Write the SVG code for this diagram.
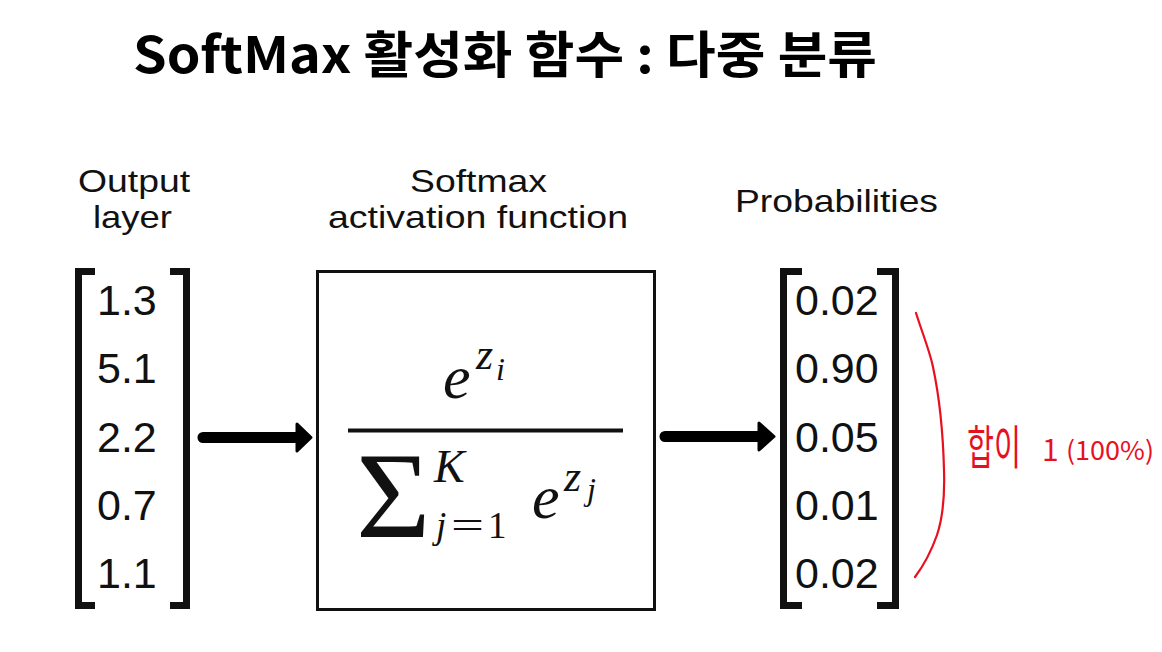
<svg xmlns="http://www.w3.org/2000/svg" width="1162" height="652" viewBox="0 0 1162 652">
<style>
.lbl{font-family:"Liberation Sans",Arial,sans-serif;font-size:32px;fill:#111;text-anchor:start}
.num{font-family:"Liberation Sans",Arial,sans-serif;font-size:43px;fill:#111}
.br{fill:#111}
.m{font-family:"Liberation Serif","Times New Roman",serif;font-style:italic;fill:#111}
.r{font-family:"Liberation Serif","Times New Roman",serif;fill:#111}
.arrow{stroke:#000;stroke-width:11;stroke-linecap:round;fill:none}
.head{fill:#000;stroke:#000;stroke-width:3;stroke-linejoin:round}
.red{fill:#e8101e;font-family:"Noto Sans CJK KR","Noto Sans",sans-serif}
</style>
<rect width="1162" height="652" fill="#fff"/>
<g id="title">
<text x="133" y="73" font-family="'Noto Sans CJK KR','Noto Sans',sans-serif" font-weight="bold" font-size="50" fill="#000" textLength="744" lengthAdjust="spacingAndGlyphs">SoftMax 활성화 함수 : 다중 분류</text>
</g>
<g id="output-layer">
<text class="lbl" x="78" y="192" textLength="112" lengthAdjust="spacingAndGlyphs">Output</text>
<text class="lbl" x="93" y="228" textLength="79" lengthAdjust="spacingAndGlyphs">layer</text>
<rect class="br" x="75" y="268" width="7" height="341"/>
<rect class="br" x="75" y="268" width="20" height="7"/>
<rect class="br" x="75" y="602" width="20" height="7"/>
<rect class="br" x="183" y="268" width="7" height="341"/>
<rect class="br" x="170" y="268" width="20" height="7"/>
<rect class="br" x="170" y="602" width="20" height="7"/>
<text class="num" x="97" y="315">1.3</text>
<text class="num" x="97" y="383">5.1</text>
<text class="num" x="97" y="452">2.2</text>
<text class="num" x="97" y="520">0.7</text>
<text class="num" x="97" y="588">1.1</text>
</g>
<g id="softmax">
<text class="lbl" x="410" y="192" textLength="137" lengthAdjust="spacingAndGlyphs">Softmax</text>
<text class="lbl" x="328" y="228" textLength="300" lengthAdjust="spacingAndGlyphs">activation function</text>
<rect x="317.5" y="271.5" width="337" height="338" fill="none" stroke="#111" stroke-width="3"/>
<rect x="348" y="428.5" width="275" height="4" fill="#111"/>
<text class="m" x="443" y="398" font-size="62">e</text>
<text class="m" x="476" y="369" font-size="44">z</text>
<text class="m" x="496" y="380" font-size="32">i</text>
<text class="r" transform="translate(356,537) scale(1.05,1)" font-size="122">Σ</text>
<text class="m" x="434" y="482" font-size="46">K</text>
<text class="m" x="436" y="538" font-size="37">j</text>
<text class="r" x="451" y="538" font-size="37" textLength="33" lengthAdjust="spacingAndGlyphs">=</text>
<text class="r" x="488" y="538" font-size="37">1</text>
<text class="m" x="532" y="518" font-size="62">e</text>
<text class="m" x="564" y="491" font-size="44">z</text>
<text class="m" x="587" y="500" font-size="32">j</text>
</g>
<g id="probabilities">
<text class="lbl" x="735" y="212" font-size="35" textLength="203" lengthAdjust="spacingAndGlyphs">Probabilities</text>
<rect class="br" x="780" y="268" width="7" height="341"/>
<rect class="br" x="780" y="268" width="22" height="7"/>
<rect class="br" x="780" y="602" width="22" height="7"/>
<rect class="br" x="892" y="268" width="7" height="341"/>
<rect class="br" x="877" y="268" width="22" height="7"/>
<rect class="br" x="877" y="602" width="22" height="7"/>
<text class="num" x="795" y="315">0.02</text>
<text class="num" x="795" y="383">0.90</text>
<text class="num" x="795" y="452">0.05</text>
<text class="num" x="795" y="520">0.01</text>
<text class="num" x="795" y="588">0.02</text>
</g>
<g id="annotation">
<path d="M916,313 C922,332 930,352 933,367 C940,400 943,430 944,470 C945,500 942,520 937,535 C931,552 924,565 915,577" fill="none" stroke="#e8101e" stroke-width="2.2" stroke-linecap="round"/>
<text class="red" transform="translate(967,464) scale(1,1.45)" font-size="32" textLength="54" lengthAdjust="spacingAndGlyphs">합이</text>
<text class="red" x="1042" y="461" font-size="30">1</text>
<text class="red" x="1066" y="460" font-size="26" textLength="88" lengthAdjust="spacingAndGlyphs">(100%)</text>
</g>
<g id="connectors">
<line class="arrow" x1="203" y1="437.5" x2="298" y2="437.5"/>
<polygon class="head" points="297,424 311,437.5 297,451"/>
<line class="arrow" x1="665" y1="436.5" x2="760" y2="436.5"/>
<polygon class="head" points="759,423 774,436.5 759,450"/>
</g>
</svg>
